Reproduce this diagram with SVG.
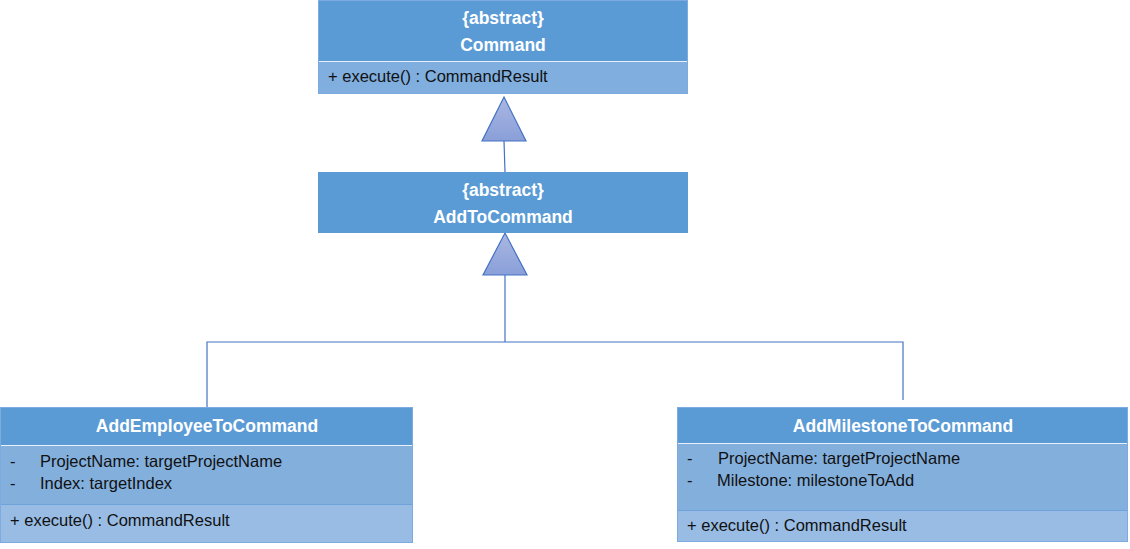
<svg xmlns="http://www.w3.org/2000/svg" width="1130" height="549" viewBox="0 0 1130 549">
<defs>
<linearGradient id="tri" x1="0" y1="0" x2="0" y2="1">
<stop offset="0" stop-color="#A9B7E2"/>
<stop offset="1" stop-color="#8A9FD9"/>
</linearGradient>
<style>
.hdr{fill:#5B9BD5}
.att{fill:#83AFDD}
.met{fill:#98BCE4}
.met1{fill:#80AEDE}
.box{fill:none;stroke:#7DAAE0;stroke-width:1}
.sep{stroke:#E8F0FA;stroke-width:1.2}
.sep2{stroke:#6FA1DA;stroke-width:1}
.t{font-family:"Liberation Sans",Arial,sans-serif;font-size:17.5px;font-weight:bold;fill:#ffffff;text-anchor:middle}
.m{font-family:"Liberation Sans",Arial,sans-serif;font-size:16.5px;fill:#111111}
.conn{fill:none;stroke:#4472C4;stroke-width:1.2}
.gen{fill:url(#tri);stroke:#4472C4;stroke-width:1.2}
</style>
</defs>
<rect width="1130" height="549" fill="#ffffff"/>

<g id="connectors">
<line class="conn" x1="504" y1="141" x2="505" y2="172"/>
<polygon class="gen" points="504,97 526,141 482,141"/>
<polyline class="conn" points="207,407 207,342 903,342 903,400"/>
<line class="conn" x1="505" y1="275" x2="505" y2="342"/>
<polygon class="gen" points="505,233 527,275 483,275"/>
</g>

<g id="Command">
<rect class="hdr" x="318" y="0" width="370" height="61"/>
<rect class="met1" x="318" y="61" width="370" height="33"/>
<line class="sep" x1="318" y1="61.5" x2="688" y2="61.5"/>
<rect class="box" x="318.5" y="0.5" width="369" height="93"/>
<text class="t" x="503" y="24">{abstract}</text>
<text class="t" x="503" y="51">Command</text>
<text class="m" x="328" y="82">+ execute() : CommandResult</text>
</g>

<g id="AddToCommand">
<rect class="hdr" x="318" y="172" width="370" height="61"/>
<text class="t" x="503" y="196">{abstract}</text>
<text class="t" x="503" y="223">AddToCommand</text>
</g>

<g id="AddEmployeeToCommand">
<rect class="hdr" x="0" y="407" width="413" height="38"/>
<rect class="att" x="0" y="445" width="413" height="59"/>
<rect class="met" x="0" y="504" width="413" height="39"/>
<line class="sep" x1="0" y1="445.5" x2="413" y2="445.5"/>
<line class="sep2" x1="0" y1="504.5" x2="413" y2="504.5"/>
<rect class="box" x="0.5" y="407.5" width="412" height="135"/>
<text class="t" x="207" y="432">AddEmployeeToCommand</text>
<text class="m" x="10" y="467">-</text>
<text class="m" x="40" y="467">ProjectName: targetProjectName</text>
<text class="m" x="10" y="489">-</text>
<text class="m" x="40" y="489">Index: targetIndex</text>
<text class="m" x="10" y="526">+ execute() : CommandResult</text>
</g>

<g id="AddMilestoneToCommand">
<rect class="hdr" x="677" y="407" width="451" height="36"/>
<rect class="att" x="677" y="443" width="451" height="67"/>
<rect class="met" x="677" y="510" width="451" height="32"/>
<line class="sep" x1="677" y1="443.5" x2="1128" y2="443.5"/>
<line class="sep2" x1="677" y1="510.5" x2="1128" y2="510.5"/>
<rect class="box" x="677.5" y="407.5" width="450" height="134"/>
<text class="t" x="903" y="432">AddMilestoneToCommand</text>
<text class="m" x="687" y="464">-</text>
<text class="m" x="718" y="464">ProjectName: targetProjectName</text>
<text class="m" x="687" y="486">-</text>
<text class="m" x="717" y="486">Milestone: milestoneToAdd</text>
<text class="m" x="687" y="531">+ execute() : CommandResult</text>
</g>
</svg>
